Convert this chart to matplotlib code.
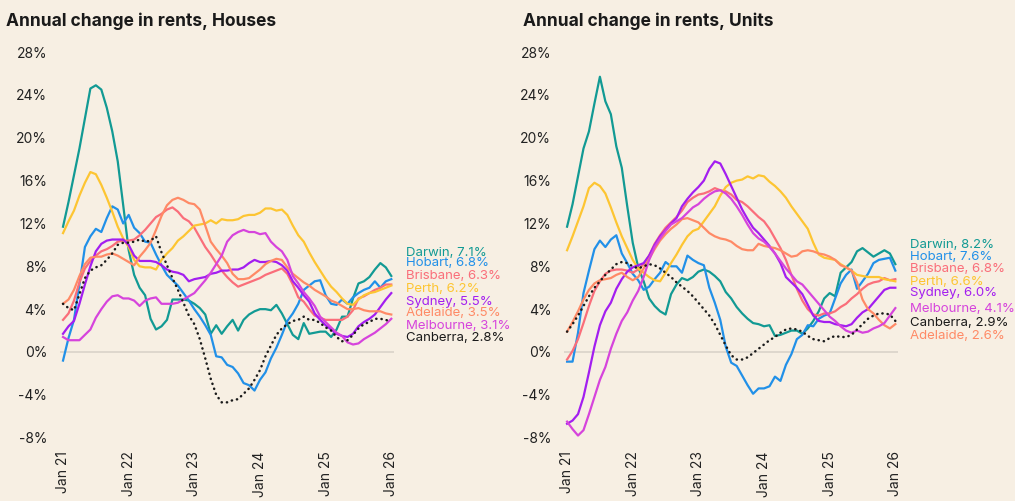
import numpy as np
import matplotlib
matplotlib.use('Agg')
import matplotlib.pyplot as plt

plt.rcParams['font.family'] = ['Inter', 'DejaVu Sans']

months = np.arange(61)  # Jan 21 .. Jan 26, monthly
tick_months = [0, 12, 24, 36, 48, 60]
tick_labels = ['Jan 21', 'Jan 22', 'Jan 23', 'Jan 24', 'Jan 25', 'Jan 26']
yticks = [-8, -4, 0, 4, 8, 12, 16, 20, 24, 28]

cities = ['Darwin', 'Hobart', 'Brisbane', 'Perth', 'Sydney', 'Adelaide', 'Melbourne', 'Canberra']
colors = {
    'Darwin': '#129a94',
    'Hobart': '#2190e8',
    'Brisbane': '#fa6e7a',
    'Perth': '#fdc532',
    'Sydney': '#a31ef0',
    'Adelaide': '#ff8a66',
    'Melbourne': '#d644dc',
    'Canberra': '#1a1a1a',
}

darwin_h = [11.7, 14.0, 16.5, 19.0, 21.8, 24.6, 24.9, 24.5, 22.8, 20.6,
            17.8, 13.7, 9.5, 7.2, 6.0, 5.3, 3.1, 2.1, 2.4, 3.0,
            4.9, 4.9, 4.9, 4.8, 4.5, 4.1, 3.5, 1.7, 2.5, 1.7,
            2.4, 3.0, 2.0, 3.0, 3.5, 3.8, 4.0, 4.0, 3.9, 4.4,
            3.6, 2.6, 1.6, 1.2, 2.7, 1.7, 1.8, 1.9, 1.9, 1.4,
            2.1, 3.3, 3.3, 5.0, 6.4, 6.6, 7.0, 7.7, 8.3, 7.9, 7.1]
hobart_h = [-0.8, 1.3, 3.0, 6.3, 9.8, 10.8, 11.5, 11.2, 12.5, 13.6,
            13.3, 12.0, 12.8, 11.6, 11.1, 10.3, 10.2, 9.1, 8.1, 7.2,
            6.7, 6.2, 5.5, 4.8, 4.0, 3.3, 2.5, 1.6, -0.4, -0.5,
            -1.2, -1.4, -2.0, -2.9, -3.1, -3.6, -2.6, -1.9, -0.6, 0.4,
            1.6, 2.9, 3.6, 4.5, 5.8, 6.2, 6.6, 6.7, 5.3, 4.5,
            4.4, 4.9, 4.5, 5.1, 5.5, 5.8, 6.0, 6.6, 6.0, 6.6, 6.8]
brisbane_h = [3.0, 3.6, 4.8, 6.5, 7.8, 8.5, 9.0, 9.4, 9.6, 9.9,
              10.3, 10.4, 10.4, 10.5, 10.9, 11.4, 12.0, 12.6, 12.9, 13.3,
              13.5, 13.1, 12.5, 12.2, 11.6, 10.7, 9.8, 9.1, 8.3, 7.6,
              7.0, 6.5, 6.1, 6.3, 6.5, 6.7, 6.9, 7.2, 7.4, 7.6,
              7.8, 7.3, 6.3, 5.1, 4.7, 4.0, 3.4, 3.2, 3.0, 3.0,
              3.0, 3.0, 3.3, 3.9, 5.0, 5.2, 5.5, 5.8, 6.0, 6.3, 6.3]
perth_h = [11.1, 12.2, 13.2, 14.6, 15.8, 16.8, 16.6, 15.6, 14.4, 13.1,
           11.7, 10.6, 9.8, 8.6, 8.0, 7.9, 7.9, 7.7, 8.6, 9.2,
           9.7, 10.4, 10.8, 11.3, 11.8, 11.9, 12.0, 12.3, 12.0, 12.4,
           12.3, 12.3, 12.4, 12.7, 12.8, 12.8, 13.0, 13.4, 13.4, 13.2,
           13.3, 12.8, 11.8, 10.9, 10.3, 9.3, 8.4, 7.6, 6.8, 6.1,
           5.6, 5.0, 4.5, 4.4, 4.9, 5.3, 5.5, 5.6, 5.8, 6.0, 6.2]
sydney_h = [1.7, 2.4, 2.9, 4.5, 6.3, 8.0, 9.4, 10.1, 10.4, 10.5,
            10.5, 10.5, 10.0, 9.0, 8.5, 8.5, 8.5, 8.4, 8.1, 7.7,
            7.5, 7.4, 7.2, 6.6, 6.8, 6.9, 7.0, 7.3, 7.4, 7.6,
            7.6, 7.7, 7.7, 7.9, 8.3, 8.6, 8.4, 8.4, 8.5, 8.4,
            8.1, 7.6, 6.6, 6.0, 5.3, 4.7, 3.6, 3.0, 2.5, 2.1,
            1.7, 1.5, 1.4, 1.7, 2.4, 2.8, 3.1, 3.5, 4.2, 4.9, 5.5]
adelaide_h = [4.5, 4.9, 5.8, 7.1, 8.2, 8.8, 8.9, 8.9, 9.1, 9.2,
              9.0, 8.7, 8.4, 8.1, 8.9, 9.5, 10.2, 11.4, 12.7, 13.7,
              14.2, 14.4, 14.2, 13.9, 13.8, 13.3, 11.8, 10.3, 9.6, 9.0,
              8.3, 7.3, 6.8, 6.8, 6.9, 7.3, 7.7, 8.2, 8.5, 8.7,
              8.6, 7.9, 7.3, 6.9, 6.5, 6.2, 5.8, 5.5, 5.2, 4.8,
              4.6, 4.3, 4.0, 4.0, 4.1, 3.9, 3.8, 3.8, 3.8, 3.6, 3.5]
melbourne_h = [1.4, 1.1, 1.1, 1.1, 1.6, 2.1, 3.2, 4.0, 4.7, 5.2,
               5.3, 5.0, 5.0, 4.8, 4.3, 4.8, 5.0, 5.1, 4.5, 4.5,
               4.5, 4.6, 4.9, 5.2, 5.5, 6.1, 6.7, 7.4, 8.2, 9.0,
               10.3, 10.9, 11.2, 11.4, 11.2, 11.2, 11.0, 11.1, 10.3, 9.8,
               9.4, 8.6, 7.1, 6.4, 5.6, 5.0, 4.3, 3.3, 2.8, 2.3,
               1.8, 1.5, 0.9, 0.7, 0.8, 1.2, 1.5, 1.8, 2.2, 2.6, 3.1]
canberra_h = [4.5, 4.1, 3.9, 5.4, 6.9, 7.6, 7.9, 8.1, 8.6, 9.2,
              10.0, 10.2, 10.2, 10.3, 10.5, 10.3, 10.4, 10.8, 9.3, 8.1,
              6.9, 5.8, 4.6, 3.4, 2.6, 1.2, -0.6, -2.5, -4.0, -4.7,
              -4.7, -4.5, -4.4, -3.9, -3.4, -2.6, -1.7, -0.4, 0.6, 1.6,
              2.2, 2.6, 2.9, 3.0, 3.3, 3.0, 3.0, 2.7, 2.3, 2.0,
              1.4, 1.0, 1.1, 1.6, 2.2, 2.6, 2.8, 3.1, 3.1, 3.0, 2.8]

darwin_u = [11.7, 13.8, 16.4, 19.0, 20.6, 23.2, 25.7, 23.4, 22.2, 19.2,
            17.2, 13.6, 10.2, 7.9, 6.6, 5.0, 4.3, 3.8, 3.5, 5.4,
            6.3, 6.9, 6.7, 7.0, 7.5, 7.7, 7.5, 7.1, 6.6, 5.6,
            5.0, 4.2, 3.6, 3.1, 2.7, 2.6, 2.4, 2.5, 1.5, 1.6,
            1.8, 2.0, 2.0, 1.7, 2.2, 2.9, 3.8, 5.0, 5.5, 5.2,
            7.4, 7.9, 8.4, 9.4, 9.7, 9.3, 8.9, 9.2, 9.5, 9.2, 8.2]
hobart_u = [-0.9, -0.9, 1.8, 5.5, 7.6, 9.6, 10.4, 9.8, 10.5, 10.9,
            9.2, 8.3, 7.3, 6.7, 5.8, 6.1, 6.8, 7.4, 8.4, 8.0,
            8.0, 7.4, 9.0, 8.6, 8.3, 8.1, 6.0, 4.6, 3.0, 0.5,
            -1.0, -1.3, -2.2, -3.1, -3.9, -3.4, -3.4, -3.2, -2.3, -2.7,
            -1.2, -0.2, 1.2, 1.6, 2.5, 2.4, 3.1, 3.4, 3.6, 5.0,
            6.4, 7.2, 7.7, 5.9, 6.6, 7.3, 8.3, 8.6, 8.7, 8.8, 7.6]
brisbane_u = [-0.7, 0.1, 1.2, 2.7, 4.3, 5.7, 6.6, 7.3, 7.6, 7.7,
              7.7, 7.6, 7.4, 7.7, 8.2, 9.0, 10.1, 10.9, 11.6, 12.1,
              12.6, 13.2, 14.0, 14.4, 14.7, 14.8, 15.0, 15.3, 15.1, 15.0,
              14.7, 14.2, 14.0, 13.6, 13.1, 12.6, 12.2, 11.5, 10.6, 9.7,
              8.6, 7.2, 5.9, 4.8, 4.0, 3.5, 3.4, 3.6, 3.6, 3.8,
              4.2, 4.5, 5.0, 5.4, 5.9, 6.3, 6.5, 6.6, 6.9, 6.7, 6.8]
perth_u = [9.5, 10.8, 12.2, 13.6, 15.3, 15.8, 15.5, 14.8, 13.5, 12.1,
           10.8, 9.7, 8.6, 7.8, 7.4, 7.0, 6.7, 6.6, 7.4, 8.3,
           9.1, 10.0, 10.8, 11.3, 11.5, 12.2, 12.9, 13.6, 14.6, 15.4,
           15.8, 16.0, 16.1, 16.4, 16.2, 16.5, 16.4, 15.9, 15.5, 15.0,
           14.4, 13.6, 12.9, 12.2, 11.5, 10.2, 9.1, 8.8, 8.7, 8.6,
           8.2, 7.9, 7.6, 7.2, 7.1, 7.0, 7.0, 7.0, 6.8, 6.7, 6.6]
sydney_u = [-6.7, -6.4, -5.8, -4.2, -1.9, 0.5, 2.5, 3.8, 4.6, 5.9,
            6.8, 7.5, 7.9, 8.1, 8.3, 9.0, 10.0, 10.8, 11.4, 12.0,
            12.5, 13.6, 14.3, 14.9, 15.4, 16.0, 17.1, 17.8, 17.6, 16.6,
            15.5, 14.4, 13.3, 12.4, 11.6, 11.1, 10.5, 9.9, 9.2, 8.3,
            7.0, 6.5, 6.0, 5.4, 4.4, 3.4, 2.9, 2.8, 2.8, 2.6,
            2.5, 2.4, 2.6, 3.2, 3.7, 4.0, 4.6, 5.2, 5.8, 6.0, 6.0]
adelaide_u = [1.9, 2.8, 3.8, 4.9, 5.8, 6.4, 6.7, 6.8, 6.9, 7.2,
              7.4, 7.0, 6.7, 7.0, 7.8, 8.7, 9.6, 10.4, 11.0, 11.5,
              11.9, 12.4, 12.5, 12.3, 12.1, 11.6, 11.1, 10.8, 10.6, 10.5,
              10.3, 9.9, 9.6, 9.5, 9.5, 10.1, 9.9, 9.8, 9.7, 9.5,
              9.2, 8.9, 9.0, 9.4, 9.5, 9.4, 9.2, 9.1, 8.9, 8.6,
              8.1, 7.9, 7.6, 6.5, 4.9, 4.0, 3.6, 3.0, 2.5, 2.2, 2.6]
melbourne_u = [-6.5, -7.2, -7.8, -7.3, -5.8, -4.2, -2.6, -1.4, 0.3, 1.7,
               2.9, 3.7, 4.8, 5.7, 7.0, 8.6, 9.8, 10.6, 11.3, 11.9,
               12.2, 12.5, 13.0, 13.5, 13.8, 14.3, 14.7, 15.0, 15.1, 14.8,
               14.3, 13.6, 12.8, 11.9, 11.1, 10.6, 10.3, 9.8, 9.2, 8.5,
               7.8, 7.2, 6.6, 6.3, 5.7, 5.1, 4.5, 3.9, 3.3, 2.9,
               2.4, 2.0, 1.8, 2.0, 1.8, 1.9, 2.2, 2.4, 2.7, 3.4, 4.1]
canberra_u = [1.9, 2.6, 3.4, 4.3, 5.2, 6.0, 6.6, 7.2, 7.7, 8.2,
              8.4, 8.3, 8.0, 7.8, 8.0, 8.2, 8.1, 7.8, 7.4, 7.0,
              6.5, 6.1, 5.7, 5.2, 4.6, 4.0, 3.4, 2.6, 1.6, 0.6,
              -0.3, -0.7, -0.7, -0.5, -0.1, 0.3, 0.7, 1.1, 1.4, 1.8,
              2.1, 2.2, 2.1, 1.9, 1.5, 1.2, 1.1, 1.0, 1.3, 1.5,
              1.4, 1.4, 1.6, 2.1, 2.6, 3.1, 3.4, 3.6, 3.6, 3.5, 2.9]

houses = {'Darwin': darwin_h, 'Hobart': hobart_h, 'Brisbane': brisbane_h, 'Perth': perth_h,
          'Sydney': sydney_h, 'Adelaide': adelaide_h, 'Melbourne': melbourne_h, 'Canberra': canberra_h}
units = {'Darwin': darwin_u, 'Hobart': hobart_u, 'Brisbane': brisbane_u, 'Perth': perth_u,
         'Sydney': sydney_u, 'Adelaide': adelaide_u, 'Melbourne': melbourne_u, 'Canberra': canberra_u}

# end-label layout (y position in % units, top to bottom)
houses_label_order = ['Darwin', 'Hobart', 'Brisbane', 'Perth', 'Sydney', 'Adelaide', 'Melbourne', 'Canberra']
houses_label_y = [9.27, 8.31, 7.12, 5.88, 4.70, 3.64, 2.46, 1.31]
units_label_order = ['Darwin', 'Hobart', 'Brisbane', 'Perth', 'Sydney', 'Melbourne', 'Canberra', 'Adelaide']
units_label_y = [9.99, 8.90, 7.72, 6.56, 5.48, 3.99, 2.74, 1.49]

bg = '#f7efe3'
text_col = '#222222'


def draw_panel(ax, data, title, label_order, label_y, title_x):
    ax.set_facecolor(bg)
    ax.axhline(0, color='#dcd5cb', lw=1.3, zorder=1)
    for city in cities:
        if city == 'Canberra':
            ax.plot(months, data[city], color=colors[city], lw=1.8,
                    linestyle=(0, (0.1, 2.0)), dash_capstyle='round', zorder=4)
        else:
            ax.plot(months, data[city], color=colors[city], lw=1.6, zorder=3)
    ax.set_xlim(-0.5, 60.5)
    ax.set_ylim(-9, 29)
    ax.set_yticks(yticks)
    ax.set_yticklabels([f'{t}%' for t in yticks])
    ax.set_xticks(tick_months)
    ax.set_xticklabels(tick_labels, rotation=90, va='top', ha='center')
    ax.tick_params(axis='y', length=0, pad=9.5, labelsize=10, labelcolor=text_col)
    ax.tick_params(axis='x', length=0, pad=2, labelsize=10, labelcolor=text_col)
    for s in ax.spines.values():
        s.set_visible(False)
    for city, yy in zip(label_order, label_y):
        ax.text(62.7, yy, f'{city}, {data[city][-1]:.1f}%', color=colors[city],
                fontsize=9.5, va='center', ha='left', clip_on=False)
    ax.text(title_x, 1.037, title, transform=ax.transAxes, fontsize=12.5,
            fontweight='bold', color='#1a1a1a', ha='left', va='baseline')


fig = plt.figure(figsize=(10.15, 5.01), dpi=100)
fig.patch.set_facecolor(bg)
ax1 = fig.add_axes([0.0594, 0.105, 0.3288, 0.8124])
ax2 = fig.add_axes([0.5560, 0.105, 0.3288, 0.8124])
draw_panel(ax1, houses, 'Annual change in rents, Houses', houses_label_order, houses_label_y, -0.163)
draw_panel(ax2, units, 'Annual change in rents, Units', units_label_order, units_label_y, -0.124)

fig.savefig('out.png', dpi=100, facecolor=bg)
